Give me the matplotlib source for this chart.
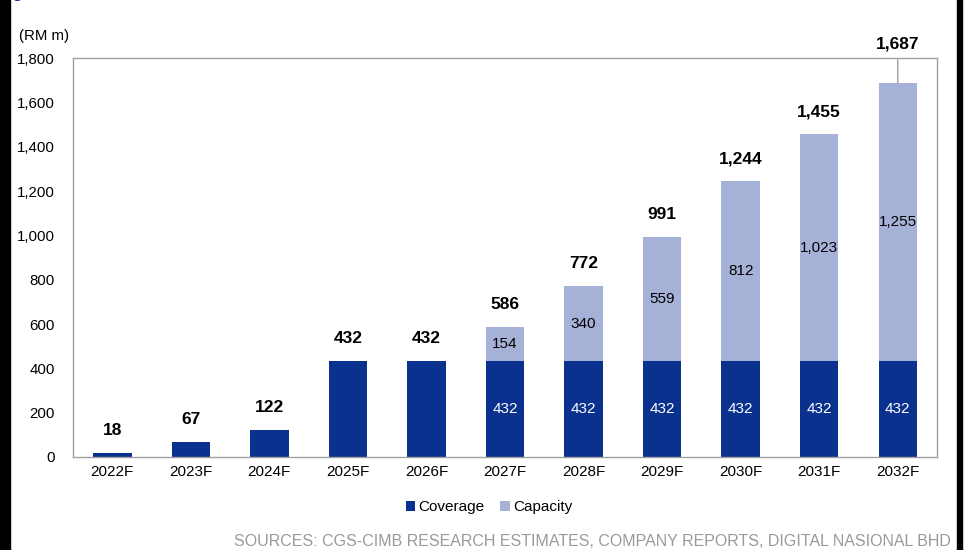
import matplotlib.pyplot as plt
from matplotlib.patches import Rectangle

plt.rcParams['font.family'] = ['Liberation Sans', 'DejaVu Sans']

years = ['2022F', '2023F', '2024F', '2025F', '2026F', '2027F',
         '2028F', '2029F', '2030F', '2031F', '2032F']
coverage = [18, 67, 122, 432, 432, 432, 432, 432, 432, 432, 432]
capacity = [0, 0, 0, 0, 0, 154, 340, 559, 812, 1023, 1255]
totals = [18, 67, 122, 432, 432, 586, 772, 991, 1244, 1455, 1687]

navy = '#0B318F'
light = '#A6B1D7'

fig = plt.figure(figsize=(9.68, 5.5), dpi=100)
ax = fig.add_axes([0.0754, 0.1691, 0.8926, 0.7254])

x = range(len(years))
ax.bar(x, coverage, width=0.49, color=navy, label='Coverage')
ax.bar(x, capacity, width=0.49, bottom=coverage, color=light, label='Capacity')

ax.set_xlim(-0.5, len(years) - 0.5)
ax.set_ylim(0, 1800)
ax.set_yticks(range(0, 1801, 200))
ax.set_yticklabels([f'{v:,}' for v in range(0, 1801, 200)], fontsize=10.8)
ax.set_xticks(list(x))
ax.set_xticklabels(years, fontsize=11)
ax.tick_params(axis='y', length=0, pad=13)
ax.tick_params(axis='x', length=0, pad=6)
for s in ax.spines.values():
    s.set_color('#A0A0A0')
    s.set_linewidth(1.0)

# values inside the stacked segments
for i in x:
    if capacity[i] > 0:
        ax.text(i, coverage[i] / 2, f'{coverage[i]:,}', ha='center', va='center',
                color='white', fontsize=11)
        ax.text(i, coverage[i] + capacity[i] / 2, f'{capacity[i]:,}', ha='center',
                va='center', color='black', fontsize=11)

# totals on top
for i in x:
    if i == len(years) - 1:
        ax.annotate(f'{totals[i]:,}', xy=(i, totals[i]), xytext=(0, 25),
                    textcoords='offset points', ha='center', va='baseline',
                    fontsize=12.5, fontweight='bold', annotation_clip=False,
                    arrowprops=dict(arrowstyle='-', color='#A0A0A0', lw=1,
                                    shrinkA=4, shrinkB=0))
    else:
        ax.annotate(f'{totals[i]:,}', xy=(i, totals[i]), xytext=(0, 13),
                    textcoords='offset points', ha='center', va='baseline',
                    fontsize=12.5, fontweight='bold')

fig.text(0.0196, 0.934, '(RM m)', fontsize=10.8, va='center')

leg = fig.legend(loc='center', bbox_to_anchor=(0.505, 0.078), ncol=2, frameon=False,
                 fontsize=11, handlelength=0.65, handleheight=0.65, handletextpad=0.2,
                 columnspacing=1.0)

fig.text(0.982, 0.016, 'SOURCES: CGS-CIMB RESEARCH ESTIMATES, COMPANY REPORTS, DIGITAL NASIONAL BHD',
         ha='right', va='center', fontsize=11.5, color='#9A9A9A')

# heading sits above the top edge, only its descenders show
fig.text(-0.002, 1.004, 'Figure 8: DNB revenue estimates', fontsize=12,
         fontweight='bold', color='#0B318F', va='baseline')

# black side rules
fig.patches.append(Rectangle((0, 0), 10 / 968, 1, transform=fig.transFigure,
                             color='black', zorder=5))
fig.patches.append(Rectangle((957 / 968, 0), 5 / 968, 1, transform=fig.transFigure,
                             color='black', zorder=5))

fig.savefig('out.png', dpi=100)
